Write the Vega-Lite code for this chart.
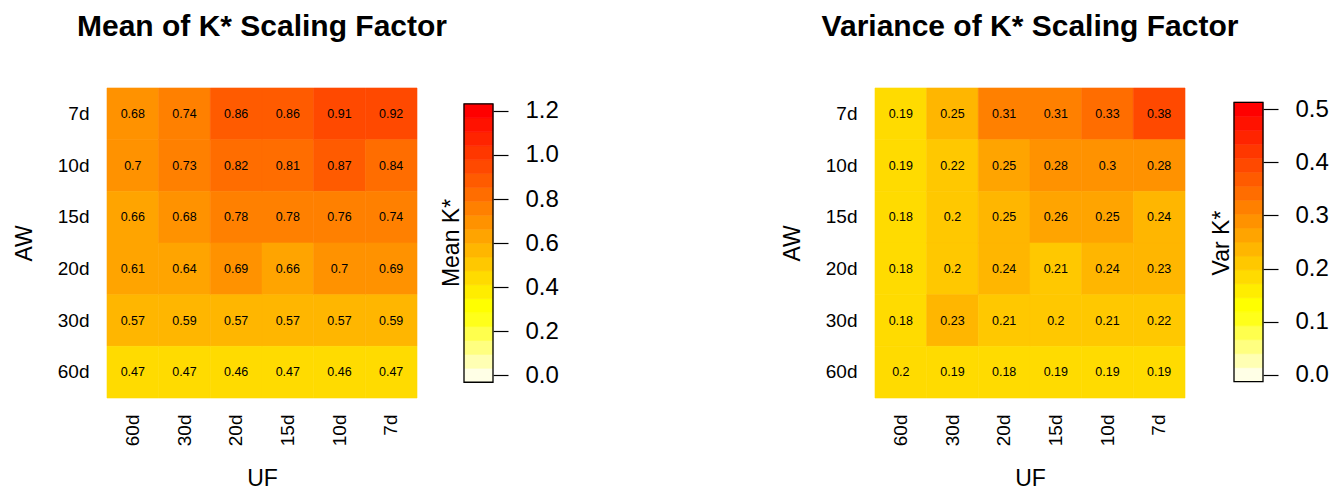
{
  "$schema": "https://vega.github.io/schema/vega-lite/v6.json",
  "background": "white",
  "padding": {"left": 13, "top": 11, "right": 0, "bottom": 0},
  "config": {
    "font": "Liberation Sans",
    "view": {"stroke": null},
    "axis": {"domain": false, "ticks": false, "grid": false, "labelColor": "black", "titleColor": "black", "titleFontWeight": "normal", "labelFont": "Liberation Sans", "titleFont": "Liberation Sans"},
    "title": {"color": "black", "font": "Liberation Sans"}
  },
  "datasets": {
    "mean": [
      {"aw": "7d", "uf": "60d", "v": 0.68}, {"aw": "7d", "uf": "30d", "v": 0.74}, {"aw": "7d", "uf": "20d", "v": 0.86}, {"aw": "7d", "uf": "15d", "v": 0.86}, {"aw": "7d", "uf": "10d", "v": 0.91}, {"aw": "7d", "uf": "7d", "v": 0.92},
      {"aw": "10d", "uf": "60d", "v": 0.7}, {"aw": "10d", "uf": "30d", "v": 0.73}, {"aw": "10d", "uf": "20d", "v": 0.82}, {"aw": "10d", "uf": "15d", "v": 0.81}, {"aw": "10d", "uf": "10d", "v": 0.87}, {"aw": "10d", "uf": "7d", "v": 0.838},
      {"aw": "15d", "uf": "60d", "v": 0.658}, {"aw": "15d", "uf": "30d", "v": 0.68}, {"aw": "15d", "uf": "20d", "v": 0.778}, {"aw": "15d", "uf": "15d", "v": 0.778}, {"aw": "15d", "uf": "10d", "v": 0.76}, {"aw": "15d", "uf": "7d", "v": 0.74},
      {"aw": "20d", "uf": "60d", "v": 0.61}, {"aw": "20d", "uf": "30d", "v": 0.64}, {"aw": "20d", "uf": "20d", "v": 0.69}, {"aw": "20d", "uf": "15d", "v": 0.658}, {"aw": "20d", "uf": "10d", "v": 0.7}, {"aw": "20d", "uf": "7d", "v": 0.69},
      {"aw": "30d", "uf": "60d", "v": 0.57}, {"aw": "30d", "uf": "30d", "v": 0.59}, {"aw": "30d", "uf": "20d", "v": 0.57}, {"aw": "30d", "uf": "15d", "v": 0.57}, {"aw": "30d", "uf": "10d", "v": 0.57}, {"aw": "30d", "uf": "7d", "v": 0.59},
      {"aw": "60d", "uf": "60d", "v": 0.47}, {"aw": "60d", "uf": "30d", "v": 0.47}, {"aw": "60d", "uf": "20d", "v": 0.46}, {"aw": "60d", "uf": "15d", "v": 0.47}, {"aw": "60d", "uf": "10d", "v": 0.46}, {"aw": "60d", "uf": "7d", "v": 0.47}
    ],
    "var": [
      {"aw": "7d", "uf": "60d", "v": 0.19}, {"aw": "7d", "uf": "30d", "v": 0.248}, {"aw": "7d", "uf": "20d", "v": 0.31}, {"aw": "7d", "uf": "15d", "v": 0.31}, {"aw": "7d", "uf": "10d", "v": 0.33}, {"aw": "7d", "uf": "7d", "v": 0.38},
      {"aw": "10d", "uf": "60d", "v": 0.19}, {"aw": "10d", "uf": "30d", "v": 0.22}, {"aw": "10d", "uf": "20d", "v": 0.252}, {"aw": "10d", "uf": "15d", "v": 0.28}, {"aw": "10d", "uf": "10d", "v": 0.298}, {"aw": "10d", "uf": "7d", "v": 0.28},
      {"aw": "15d", "uf": "60d", "v": 0.18}, {"aw": "15d", "uf": "30d", "v": 0.202}, {"aw": "15d", "uf": "20d", "v": 0.248}, {"aw": "15d", "uf": "15d", "v": 0.26}, {"aw": "15d", "uf": "10d", "v": 0.252}, {"aw": "15d", "uf": "7d", "v": 0.24},
      {"aw": "20d", "uf": "60d", "v": 0.18}, {"aw": "20d", "uf": "30d", "v": 0.202}, {"aw": "20d", "uf": "20d", "v": 0.24}, {"aw": "20d", "uf": "15d", "v": 0.21}, {"aw": "20d", "uf": "10d", "v": 0.24}, {"aw": "20d", "uf": "7d", "v": 0.23},
      {"aw": "30d", "uf": "60d", "v": 0.18}, {"aw": "30d", "uf": "30d", "v": 0.23}, {"aw": "30d", "uf": "20d", "v": 0.21}, {"aw": "30d", "uf": "15d", "v": 0.202}, {"aw": "30d", "uf": "10d", "v": 0.21}, {"aw": "30d", "uf": "7d", "v": 0.22},
      {"aw": "60d", "uf": "60d", "v": 0.198}, {"aw": "60d", "uf": "30d", "v": 0.19}, {"aw": "60d", "uf": "20d", "v": 0.18}, {"aw": "60d", "uf": "15d", "v": 0.19}, {"aw": "60d", "uf": "10d", "v": 0.19}, {"aw": "60d", "uf": "7d", "v": 0.19}
    ],
    "meanleg": [
      {"c": 0, "lo": -0.0316, "hi": 0.0316}, {"c": 0.0632, "lo": 0.0316, "hi": 0.0947}, {"c": 0.1263, "lo": 0.0947, "hi": 0.1579}, {"c": 0.1895, "lo": 0.1579, "hi": 0.2211}, {"c": 0.2526, "lo": 0.2211, "hi": 0.2842},
      {"c": 0.3158, "lo": 0.2842, "hi": 0.3474}, {"c": 0.3789, "lo": 0.3474, "hi": 0.4105}, {"c": 0.4421, "lo": 0.4105, "hi": 0.4737}, {"c": 0.5053, "lo": 0.4737, "hi": 0.5368}, {"c": 0.5684, "lo": 0.5368, "hi": 0.6},
      {"c": 0.6316, "lo": 0.6, "hi": 0.6632}, {"c": 0.6947, "lo": 0.6632, "hi": 0.7263}, {"c": 0.7579, "lo": 0.7263, "hi": 0.7895}, {"c": 0.8211, "lo": 0.7895, "hi": 0.8526}, {"c": 0.8842, "lo": 0.8526, "hi": 0.9158},
      {"c": 0.9474, "lo": 0.9158, "hi": 0.9789}, {"c": 1.0105, "lo": 0.9789, "hi": 1.0421}, {"c": 1.0737, "lo": 1.0421, "hi": 1.1053}, {"c": 1.1368, "lo": 1.1053, "hi": 1.1684}, {"c": 1.2, "lo": 1.1684, "hi": 1.2316}
    ],
    "varleg": [
      {"c": 0, "lo": -0.0132, "hi": 0.0132}, {"c": 0.0263, "lo": 0.0132, "hi": 0.0395}, {"c": 0.0526, "lo": 0.0395, "hi": 0.0658}, {"c": 0.0789, "lo": 0.0658, "hi": 0.0921}, {"c": 0.1053, "lo": 0.0921, "hi": 0.1184},
      {"c": 0.1316, "lo": 0.1184, "hi": 0.1447}, {"c": 0.1579, "lo": 0.1447, "hi": 0.1711}, {"c": 0.1842, "lo": 0.1711, "hi": 0.1974}, {"c": 0.2105, "lo": 0.1974, "hi": 0.2237}, {"c": 0.2368, "lo": 0.2237, "hi": 0.25},
      {"c": 0.2632, "lo": 0.25, "hi": 0.2763}, {"c": 0.2895, "lo": 0.2763, "hi": 0.3026}, {"c": 0.3158, "lo": 0.3026, "hi": 0.3289}, {"c": 0.3421, "lo": 0.3289, "hi": 0.3553}, {"c": 0.3684, "lo": 0.3553, "hi": 0.3816},
      {"c": 0.3947, "lo": 0.3816, "hi": 0.4079}, {"c": 0.4211, "lo": 0.4079, "hi": 0.4342}, {"c": 0.4474, "lo": 0.4342, "hi": 0.4605}, {"c": 0.4737, "lo": 0.4605, "hi": 0.4868}, {"c": 0.5, "lo": 0.4868, "hi": 0.5132}
    ]
  },
  "resolve": {"scale": {"color": "independent", "stroke": "independent", "x": "independent", "y": "independent"}},
  "spacing": 222,
  "hconcat": [
    {
      "resolve": {"scale": {"color": "independent", "stroke": "independent", "x": "independent", "y": "independent"}},
      "bounds": "flush",
      "spacing": 47,
      "hconcat": [
        {
          "width": 310, "height": 310,
          "title": {"text": "Mean of K* Scaling Factor", "fontSize": 30, "fontWeight": "bold", "anchor": "middle", "offset": 46},
          "data": {"name": "mean"},
          "encoding": {
            "x": {"field": "uf", "type": "nominal", "sort": ["60d", "30d", "20d", "15d", "10d", "7d"], "scale": {"paddingInner": 0, "paddingOuter": 0}, "axis": {"title": "UF", "labelAngle": -90, "labelFontSize": 19, "labelPadding": 16, "titleFontSize": 23, "titlePadding": 22}},
            "y": {"field": "aw", "type": "nominal", "sort": ["7d", "10d", "15d", "20d", "30d", "60d"], "scale": {"paddingInner": 0, "paddingOuter": 0}, "axis": {"title": "AW", "labelFontSize": 19, "labelPadding": 18, "titleFontSize": 23, "titlePadding": 21}}
          },
          "layer": [
            {"mark": {"type": "rect", "strokeWidth": 0.6}, "encoding": {
              "color": {"field": "v", "type": "quantitative", "scale": {"type": "quantize", "domain": [0, 1.2], "range": ["#FFFFE6", "#FFFFB3", "#FFFF80", "#FFFF4D", "#FFFF1A", "#FFFF00", "#FFED00", "#FFDB00", "#FFC800", "#FFB600", "#FFA400", "#FF9200", "#FF8000", "#FF6D00", "#FF5B00", "#FF4900", "#FF3700", "#FF2400", "#FF1200", "#FF0000"]}, "legend": null},
              "stroke": {"field": "v", "type": "quantitative", "scale": {"type": "quantize", "domain": [0, 1.2], "range": ["#FFFFE6", "#FFFFB3", "#FFFF80", "#FFFF4D", "#FFFF1A", "#FFFF00", "#FFED00", "#FFDB00", "#FFC800", "#FFB600", "#FFA400", "#FF9200", "#FF8000", "#FF6D00", "#FF5B00", "#FF4900", "#FF3700", "#FF2400", "#FF1200", "#FF0000"]}, "legend": null}
            }},
            {"mark": {"type": "text", "fontSize": 12.5, "color": "black"}, "encoding": {"text": {"field": "v", "type": "quantitative", "format": ".2~f"}}}
          ]
        },
        {
          "width": 29, "height": 310,
          "title": {"text": "Mean K*", "orient": "left", "fontSize": 23, "fontWeight": "normal", "anchor": "middle", "offset": -1},
          "data": {"name": "meanleg"},
          "layer": [
            {"mark": {"type": "rect", "strokeWidth": 0.6}, "encoding": {
              "y": {"field": "lo", "type": "quantitative", "scale": {"domain": [-0.103, 1.304], "nice": false, "zero": false}, "axis": {"orient": "right", "values": [0, 0.2, 0.4, 0.6, 0.8, 1, 1.2], "format": ".1f", "title": null, "ticks": true, "tickSize": 15, "tickColor": "black", "tickWidth": 1.2, "labelFontSize": 24, "labelPadding": 17}},
              "y2": {"field": "hi"},
              "color": {"field": "c", "type": "quantitative", "scale": {"type": "quantize", "domain": [0, 1.2], "range": ["#FFFFE6", "#FFFFB3", "#FFFF80", "#FFFF4D", "#FFFF1A", "#FFFF00", "#FFED00", "#FFDB00", "#FFC800", "#FFB600", "#FFA400", "#FF9200", "#FF8000", "#FF6D00", "#FF5B00", "#FF4900", "#FF3700", "#FF2400", "#FF1200", "#FF0000"]}, "legend": null},
              "stroke": {"field": "c", "type": "quantitative", "scale": {"type": "quantize", "domain": [0, 1.2], "range": ["#FFFFE6", "#FFFFB3", "#FFFF80", "#FFFF4D", "#FFFF1A", "#FFFF00", "#FFED00", "#FFDB00", "#FFC800", "#FFB600", "#FFA400", "#FF9200", "#FF8000", "#FF6D00", "#FF5B00", "#FF4900", "#FF3700", "#FF2400", "#FF1200", "#FF0000"]}, "legend": null}
            }},
            {"transform": [{"aggregate": [{"op": "min", "field": "lo", "as": "lo"}, {"op": "max", "field": "hi", "as": "hi"}]}],
             "mark": {"type": "rect", "fillOpacity": 0, "stroke": "black", "strokeWidth": 1.3},
             "encoding": {"y": {"field": "lo", "type": "quantitative"}, "y2": {"field": "hi"}}}
          ]
        }
      ]
    },
    {
      "resolve": {"scale": {"color": "independent", "stroke": "independent", "x": "independent", "y": "independent"}},
      "bounds": "flush",
      "spacing": 49,
      "hconcat": [
        {
          "width": 310, "height": 310,
          "title": {"text": "Variance of K* Scaling Factor", "fontSize": 30, "fontWeight": "bold", "anchor": "middle", "offset": 46},
          "data": {"name": "var"},
          "encoding": {
            "x": {"field": "uf", "type": "nominal", "sort": ["60d", "30d", "20d", "15d", "10d", "7d"], "scale": {"paddingInner": 0, "paddingOuter": 0}, "axis": {"title": "UF", "labelAngle": -90, "labelFontSize": 19, "labelPadding": 16, "titleFontSize": 23, "titlePadding": 22}},
            "y": {"field": "aw", "type": "nominal", "sort": ["7d", "10d", "15d", "20d", "30d", "60d"], "scale": {"paddingInner": 0, "paddingOuter": 0}, "axis": {"title": "AW", "labelFontSize": 19, "labelPadding": 18, "titleFontSize": 23, "titlePadding": 21}}
          },
          "layer": [
            {"mark": {"type": "rect", "strokeWidth": 0.6}, "encoding": {
              "color": {"field": "v", "type": "quantitative", "scale": {"type": "quantize", "domain": [0, 0.5], "range": ["#FFFFE6", "#FFFFB3", "#FFFF80", "#FFFF4D", "#FFFF1A", "#FFFF00", "#FFED00", "#FFDB00", "#FFC800", "#FFB600", "#FFA400", "#FF9200", "#FF8000", "#FF6D00", "#FF5B00", "#FF4900", "#FF3700", "#FF2400", "#FF1200", "#FF0000"]}, "legend": null},
              "stroke": {"field": "v", "type": "quantitative", "scale": {"type": "quantize", "domain": [0, 0.5], "range": ["#FFFFE6", "#FFFFB3", "#FFFF80", "#FFFF4D", "#FFFF1A", "#FFFF00", "#FFED00", "#FFDB00", "#FFC800", "#FFB600", "#FFA400", "#FF9200", "#FF8000", "#FF6D00", "#FF5B00", "#FF4900", "#FF3700", "#FF2400", "#FF1200", "#FF0000"]}, "legend": null}
            }},
            {"mark": {"type": "text", "fontSize": 12.5, "color": "black"}, "encoding": {"text": {"field": "v", "type": "quantitative", "format": ".2~f"}}}
          ]
        },
        {
          "width": 29, "height": 310,
          "title": {"text": "Var K*", "orient": "left", "fontSize": 23, "fontWeight": "normal", "anchor": "middle", "offset": -1},
          "data": {"name": "varleg"},
          "layer": [
            {"mark": {"type": "rect", "strokeWidth": 0.6}, "encoding": {
              "y": {"field": "lo", "type": "quantitative", "scale": {"domain": [-0.0439, 0.5401], "nice": false, "zero": false}, "axis": {"orient": "right", "values": [0, 0.1, 0.2, 0.3, 0.4, 0.5], "format": ".1f", "title": null, "ticks": true, "tickSize": 15, "tickColor": "black", "tickWidth": 1.2, "labelFontSize": 24, "labelPadding": 17}},
              "y2": {"field": "hi"},
              "color": {"field": "c", "type": "quantitative", "scale": {"type": "quantize", "domain": [0, 0.5], "range": ["#FFFFE6", "#FFFFB3", "#FFFF80", "#FFFF4D", "#FFFF1A", "#FFFF00", "#FFED00", "#FFDB00", "#FFC800", "#FFB600", "#FFA400", "#FF9200", "#FF8000", "#FF6D00", "#FF5B00", "#FF4900", "#FF3700", "#FF2400", "#FF1200", "#FF0000"]}, "legend": null},
              "stroke": {"field": "c", "type": "quantitative", "scale": {"type": "quantize", "domain": [0, 0.5], "range": ["#FFFFE6", "#FFFFB3", "#FFFF80", "#FFFF4D", "#FFFF1A", "#FFFF00", "#FFED00", "#FFDB00", "#FFC800", "#FFB600", "#FFA400", "#FF9200", "#FF8000", "#FF6D00", "#FF5B00", "#FF4900", "#FF3700", "#FF2400", "#FF1200", "#FF0000"]}, "legend": null}
            }},
            {"transform": [{"aggregate": [{"op": "min", "field": "lo", "as": "lo"}, {"op": "max", "field": "hi", "as": "hi"}]}],
             "mark": {"type": "rect", "fillOpacity": 0, "stroke": "black", "strokeWidth": 1.3},
             "encoding": {"y": {"field": "lo", "type": "quantitative"}, "y2": {"field": "hi"}}}
          ]
        }
      ]
    }
  ]
}
